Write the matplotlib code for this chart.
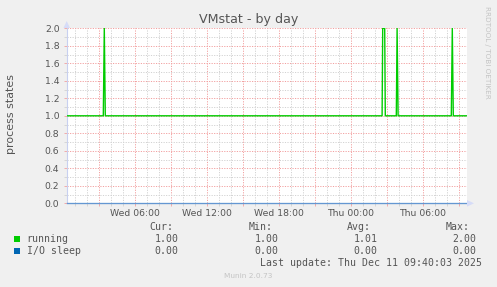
import matplotlib
matplotlib.use('Agg')
import matplotlib.pyplot as plt
import matplotlib.dates as mdates
import pandas as pd

# time window shown (munin "day" = 400 px of 5 min samples)
t_start = pd.Timestamp('2025-12-10 00:20')
t_end = pd.Timestamp('2025-12-11 09:40')

# running: flat at 1.0 with short spikes to 2.0
run_times = ['2025-12-10 00:20', '2025-12-10 03:23', '2025-12-10 03:28', '2025-12-10 03:33',
             '2025-12-11 02:37', '2025-12-11 02:40', '2025-12-11 02:45', '2025-12-11 02:50',
             '2025-12-11 02:53', '2025-12-11 03:48', '2025-12-11 03:52', '2025-12-11 03:57',
             '2025-12-11 08:23', '2025-12-11 08:28', '2025-12-11 08:33', '2025-12-11 09:40']
run_vals = [1.0, 1.0, 2.0, 1.0,
            1.0, 2.0, 2.0, 2.0,
            1.0, 1.0, 2.0, 1.0,
            1.0, 2.0, 1.0, 1.0]

# I/O sleep: zero the whole period
io_times = ['2025-12-10 00:20', '2025-12-11 09:40']
io_vals = [0.0, 0.0]

series_names = ['running', 'I/O sleep']
series_colors = ['#00cc00', '#0066b3']
legend_cols = ['Cur:', 'Min:', 'Avg:', 'Max:']
legend_vals = [['1.00', '1.00', '1.01', '2.00'],
               ['0.00', '0.00', '0.00', '0.00']]

bg = '#f0f0f0'
txt = '#555555'
W, H = 497, 287

fig = plt.figure(figsize=(W / 100, H / 100), dpi=100, facecolor=bg)
ax = fig.add_axes([66.7 / W, (H - 203.3) / H, 400 / W, 175 / H])
ax.set_facecolor('white')

run_t = pd.to_datetime(run_times)
io_t = pd.to_datetime(io_times)

ax.plot(run_t, run_vals, color=series_colors[0], lw=1.0, zorder=4)
ax.plot(io_t, io_vals, color=series_colors[1], lw=1.0, alpha=0.4, zorder=5, clip_on=False)

ax.set_xlim(t_start, t_end)
ax.set_ylim(0, 2.0)

# grid: minor every hour / 0.1, major every 3h / 0.2
ax.xaxis.set_major_locator(mdates.HourLocator(byhour=range(0, 24, 3)))
ax.xaxis.set_minor_locator(mdates.HourLocator())
ax.set_yticks([i / 5 for i in range(11)])
ax.set_yticks([i / 10 for i in range(21)], minor=True)

dots = (0, (1.2, 1.4))
ax.grid(True, which='major', color='#f2a0a0', lw=0.7, linestyle=dots, zorder=1)
ax.grid(True, which='minor', color='#d2d2d2', lw=0.7, linestyle=dots, zorder=0)

def xfmt(x, pos):
    d = mdates.num2date(x)
    if d.hour % 6 == 0:
        return d.strftime('%a %H:%M')
    return ''

ax.xaxis.set_major_formatter(plt.FuncFormatter(xfmt))
ax.yaxis.set_major_formatter(plt.FuncFormatter(lambda v, p: f'{v:.1f}'))

ax.tick_params(axis='both', which='both', length=2, width=0.6, labelsize=6.7, labelcolor=txt)
ax.tick_params(axis='x', which='major', color='#f2a0a0', pad=2.0)
ax.tick_params(axis='x', which='minor', color='#d2d2d2')
ax.tick_params(axis='y', which='major', color='#f2a0a0', pad=3.2)
ax.tick_params(axis='y', which='minor', color='#d2d2d2')

for s in ['top', 'right']:
    ax.spines[s].set_visible(False)
ax.spines['left'].set_color('#c8d0f0')
ax.spines['bottom'].set_color('#a8b8e8')
ax.spines['left'].set_linewidth(0.8)
ax.spines['bottom'].set_linewidth(0.8)

# axis arrows
fig.patches.append(plt.Polygon([[467 / W, 1 - 200 / H], [474 / W, 1 - 203.3 / H], [467 / W, 1 - 206.6 / H]],
                               closed=True, transform=fig.transFigure, color='#d6dcf8', lw=0))
fig.patches.append(plt.Polygon([[63.5 / W, 1 - 28 / H], [66.7 / W, 1 - 21 / H], [70 / W, 1 - 28 / H]],
                               closed=True, transform=fig.transFigure, color='#d6dcf8', lw=0))

fig.text(248.5 / W, 1 - 19.5 / H, 'VMstat - by day', ha='center', va='center', fontsize=9.1, color=txt)
fig.text(11 / W, 1 - 114 / H, 'process states', rotation=90, ha='center', va='center', fontsize=7.9, color=txt)
fig.text(487 / W, 1 - 52 / H, 'RRDTOOL / TOBI OETIKER', rotation=270, ha='center', va='center',
         fontsize=5.2, color='#c4c4c4')

# legend block, monospace like munin
mono = 'DejaVu Sans Mono'
fs = 7.1
col_right = [173, 272.3, 371, 470]
val_right = [178.7, 278.7, 377.7, 476.7]
for c, xr in zip(legend_cols, col_right):
    fig.text(xr / W, 1 - 230 / H, c, ha='right', va='baseline', family=mono, fontsize=fs, color=txt)
rows_y = [242, 254]
for i, name in enumerate(series_names):
    y = rows_y[i]
    fig.patches.append(plt.Rectangle((14 / W, 1 - (y + 0.3) / H), 6 / W, 6 / H,
                                     transform=fig.transFigure, color=series_colors[i], lw=0))
    fig.text(26.7 / W, 1 - y / H, name, ha='left', va='baseline', family=mono, fontsize=fs, color=txt)
    for v, xr in zip(legend_vals[i], val_right):
        fig.text(xr / W, 1 - y / H, v, ha='right', va='baseline', family=mono, fontsize=fs, color=txt)

fig.text(482.3 / W, 1 - 266 / H, 'Last update: Thu Dec 11 09:40:03 2025', ha='right', va='baseline',
         family=mono, fontsize=fs, color=txt)
fig.text(248 / W, 1 - 276 / H, 'Munin 2.0.73', ha='center', va='center', fontsize=5.3, color='#c4c4c4')

fig.savefig('out.png', dpi=100, facecolor=bg)
